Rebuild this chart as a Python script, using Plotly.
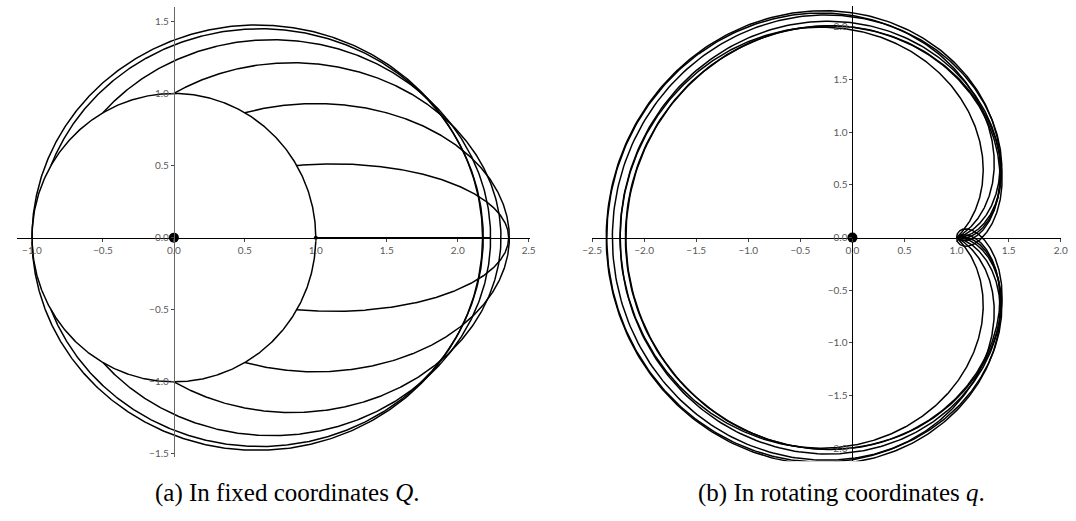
import numpy as np
import plotly.graph_objects as go

# Transfer orbits leaving the moon's circular path (radius 1) at polar angle -theta
# and meeting it again at +theta after one extra lunar revolution.
# theta = 0 is the purely radial (straight up and down) trajectory.
launch_angle_deg = [0, 30, 60, 90, 120, 150, 180]
apoapsis_radius = [2.230, 2.359, 2.364, 2.305, 2.232, 2.180, 2.175]
moon_orbit_radius = 1.0

x_ticks_fixed = [-1.0, -0.5, 0.0, 0.5, 1.0, 1.5, 2.0, 2.5]
y_ticks_fixed = [-1.5, -1.0, -0.5, 0.0, 0.5, 1.0, 1.5]
x_ticks_rot = [-2.5, -2.0, -1.5, -1.0, -0.5, 0.0, 0.5, 1.0, 1.5, 2.0]
y_ticks_rot = [-2.0, -1.5, -1.0, -0.5, 0.0, 0.5, 1.0, 1.5, 2.0]

captions = ["(a) In fixed coordinates <i>Q</i>.", "(b) In rotating coordinates <i>q</i>."]

W, H = 1076, 521
LINE = dict(color="black", width=1.5)


def orbit_arc(theta_deg, r_apo, n=700):
    """Kepler orbit (focus at origin, apoapsis on +x) outside the unit circle,
    returned in fixed and in co-rotating coordinates (frame angle = time)."""
    R = moon_orbit_radius
    if theta_deg == 0:
        # radial orbit, e = 1
        a = r_apo / 2
        E1 = np.arccos(1 - R / a)
        E = np.linspace(E1, 2 * np.pi - E1, n)
        r = a * (1 - np.cos(E))
        M = E - np.sin(E)
        phi = np.zeros_like(r)
    else:
        th = np.radians(theta_deg)
        e = (r_apo - R) / (r_apo - R * np.cos(th))
        p = R * (1 - e * np.cos(th))
        a = p / (1 - e * e)
        phi = np.linspace(-th, th, n)
        r = p / (1 - e * np.cos(phi))
        nu = phi + np.pi
        E = 2 * np.arctan2(np.sqrt(1 - e) * np.sin(nu / 2), np.sqrt(1 + e) * np.cos(nu / 2))
        M = E - e * np.sin(E)
    t = np.pi + a ** 1.5 * (M - np.pi)
    fixed = (r * np.cos(phi), r * np.sin(phi))
    rot = (r * np.cos(phi - t), r * np.sin(phi - t))
    return fixed, rot


fig = go.Figure()

# unit circle (moon path) in fixed coordinates
ang = np.linspace(0, 2 * np.pi, 721)
fig.add_trace(go.Scatter(x=moon_orbit_radius * np.cos(ang), y=moon_orbit_radius * np.sin(ang),
                         mode="lines", line=LINE, xaxis="x", yaxis="y", hoverinfo="skip"))

for th, ra in zip(launch_angle_deg, apoapsis_radius):
    (fx, fy), (qx, qy) = orbit_arc(th, ra)
    fig.add_trace(go.Scatter(x=fx, y=fy, mode="lines", line=LINE, xaxis="x", yaxis="y"))
    fig.add_trace(go.Scatter(x=qx, y=qy, mode="lines", line=LINE, xaxis="x2", yaxis="y2"))

# central body and moon
fig.add_trace(go.Scatter(x=[0], y=[0], mode="markers", marker=dict(color="black", size=10),
                         xaxis="x", yaxis="y"))
fig.add_trace(go.Scatter(x=[moon_orbit_radius], y=[0], mode="markers",
                         marker=dict(color="black", size=4), xaxis="x", yaxis="y"))
fig.add_trace(go.Scatter(x=[0], y=[0], mode="markers", marker=dict(color="black", size=10),
                         xaxis="x2", yaxis="y2"))


def px_domain_x(a, b):
    return [a / W, b / W]


def px_domain_y(top, bottom):
    return [1 - bottom / H, 1 - top / H]


tick_font = dict(family="Lato, Open Sans, sans-serif", size=10, color="#595959")
axis_common = dict(showgrid=False, zeroline=False, showline=True, linecolor="black", linewidth=1,
                   ticks="outside", ticklen=3, tickcolor="#444", tickwidth=1, tickfont=tick_font,
                   tickformat=".1f", anchor="free", fixedrange=True)

# fixed-frame panel: x=0 at 166.5 px, 144.2 px/unit; y=0 at 239 px, 145 px/unit
fig.update_layout(
    xaxis=dict(axis_common, domain=px_domain_x(6.9, 528), range=[-1.107, 2.507],
               tickvals=x_ticks_fixed, position=1 - 239 / H),
    yaxis=dict(axis_common, domain=px_domain_y(6.7, 459.3), range=[-1.519, 1.602],
               tickvals=y_ticks_fixed, position=166.5 / W, linecolor="#666"),
    xaxis2=dict(axis_common, domain=px_domain_x(591.2, 1067.8), range=[-2.502, 2.002],
                tickvals=x_ticks_rot, position=1 - 239 / H),
    yaxis2=dict(axis_common, domain=px_domain_y(6, 464), range=[-2.123, 2.198],
                tickvals=y_ticks_rot, position=856 / W),
)

for cx, txt in zip([281.7, 845.0], captions):
    fig.add_annotation(text=txt, x=cx / W, y=1 - 496 / H, xref="paper", yref="paper",
                       showarrow=False, xanchor="center", yanchor="middle",
                       font=dict(family="Liberation Serif, DejaVu Serif", size=25, color="black"))

fig.update_layout(width=W, height=H, margin=dict(l=0, r=0, t=0, b=0),
                  paper_bgcolor="white", plot_bgcolor="white", showlegend=False)

fig.write_html("out.html")
